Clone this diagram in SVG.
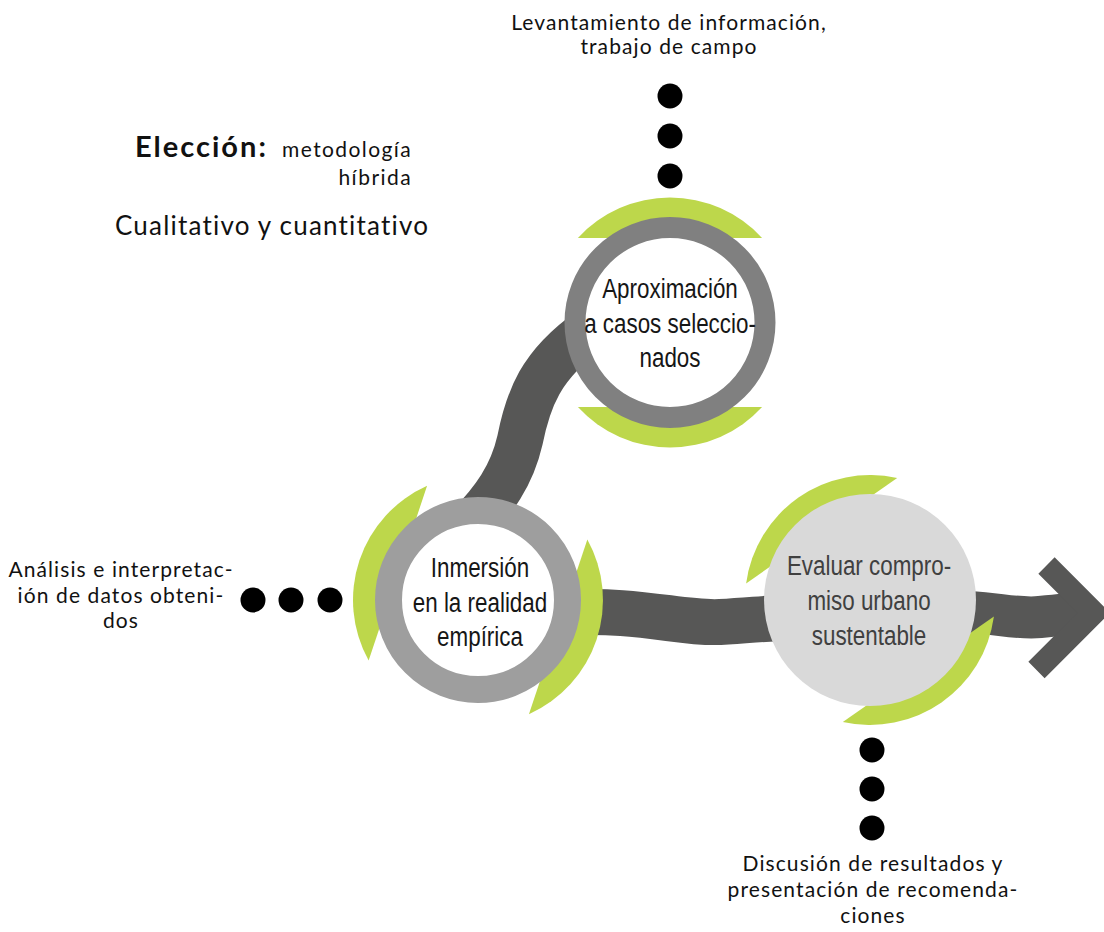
<svg xmlns="http://www.w3.org/2000/svg" width="1104" height="932" viewBox="0 0 1104 932">
<style>
.lbl{font-family:Lato,"Open Sans","Liberation Sans",sans-serif;fill:#111;font-size:21px;letter-spacing:1.1px;text-anchor:middle}
.side{font-family:Lato,"Open Sans","Liberation Sans",sans-serif;fill:#111}
.in{font-family:"Liberation Sans",Arimo,sans-serif;font-size:28px;text-anchor:middle;fill:#161616}
.ev{fill:#404040}
.band{fill:none;stroke:#575756;stroke-linecap:butt}
.green{fill:#bdd74b}
.dot{fill:#000}
</style>
<defs>
<path id="seg" d="M -92.1 -84.5 A 125 125 0 0 1 92.1 -84.5 Z"/>
</defs>
<rect width="1104" height="932" fill="#fff"/>

<g id="connectors">
<path class="band" d="M 465 530 C 495 500, 512 475, 520 440 C 528 400, 540 365, 590 330" stroke-width="46"/>
<path class="band" d="M 560 613 C 640 608, 680 624, 720 622 S 770 617, 820 617" stroke-width="46"/>
<path class="band" d="M 920 611 C 990 609, 1010 620, 1040 617 S 1070 614, 1082 613" stroke-width="42"/>
<polyline class="band" points="1046.5,565.5 1093.75,612.75 1036.5,670" stroke-width="23" stroke-linejoin="miter"/>
</g>

<g id="node-aproximacion">
<use href="#seg" class="green" transform="translate(670 322.5)"/>
<use href="#seg" class="green" transform="translate(670 322.5) rotate(180)"/>
<circle cx="670" cy="322.5" r="95" fill="#fff" stroke="#808080" stroke-width="21"/>
<g transform="translate(670 0) scale(0.8 1)">
<text class="in" x="0" y="298">Aproximación</text>
<text class="in" x="0" y="333">a casos seleccio-</text>
<text class="in" x="0" y="367">nados</text>
</g>
</g>

<g id="node-inmersion">
<use href="#seg" class="green" transform="translate(478 600) rotate(-71.5)"/>
<use href="#seg" class="green" transform="translate(478 600) rotate(108.5)"/>
<circle cx="478" cy="600" r="89.5" fill="#fff" stroke="#9e9e9e" stroke-width="27"/>
<g transform="translate(480 0) scale(0.8 1)">
<text class="in" x="0" y="577">Inmersión</text>
<text class="in" x="0" y="612">en la realidad</text>
<text class="in" x="0" y="646">empírica</text>
</g>
</g>

<g id="node-evaluar">
<use href="#seg" class="green" transform="translate(870 600) rotate(-34.9)"/>
<use href="#seg" class="green" transform="translate(870 600) rotate(145.1)"/>
<circle cx="870" cy="600" r="106" fill="#d9d9d9"/>
<g transform="translate(869 0) scale(0.8 1)">
<text class="in ev" x="0" y="575">Evaluar compro-</text>
<text class="in ev" x="0" y="610">miso urbano</text>
<text class="in ev" x="0" y="645">sustentable</text>
</g>
</g>

<g id="label-levantamiento">
<text class="lbl" x="669" y="30">Levantamiento de información,</text>
<text class="lbl" x="669" y="54">trabajo de campo</text>
<circle class="dot" cx="670" cy="96" r="12.5"/>
<circle class="dot" cx="670" cy="136" r="12.5"/>
<circle class="dot" cx="670" cy="176" r="12.5"/>
</g>

<g id="label-eleccion">
<text class="side" x="135" y="157" style="font-weight:700;font-size:29px;letter-spacing:2px">Elección:</text>
<text class="side" x="412" y="157" style="font-size:21px;letter-spacing:1.4px;text-anchor:end">metodología</text>
<text class="side" x="412" y="185" style="font-size:21px;letter-spacing:1.4px;text-anchor:end">híbrida</text>
<text class="side" x="115" y="235" style="font-size:26px;letter-spacing:1.2px">Cualitativo y cuantitativo</text>
</g>

<g id="label-analisis">
<text class="lbl" x="121" y="577">Análisis e interpretac-</text>
<text class="lbl" x="121" y="603">ión de datos obteni-</text>
<text class="lbl" x="121" y="628">dos</text>
<circle class="dot" cx="253" cy="600" r="12.5"/>
<circle class="dot" cx="291" cy="600" r="12.5"/>
<circle class="dot" cx="330" cy="600" r="12.5"/>
</g>

<g id="label-discusion">
<circle class="dot" cx="872" cy="750" r="12.5"/>
<circle class="dot" cx="872" cy="789" r="12.5"/>
<circle class="dot" cx="872" cy="828" r="12.5"/>
<text class="lbl" x="873" y="871">Discusión de resultados y</text>
<text class="lbl" x="873" y="897">presentación de recomenda-</text>
<text class="lbl" x="873" y="923">ciones</text>
</g>
</svg>
